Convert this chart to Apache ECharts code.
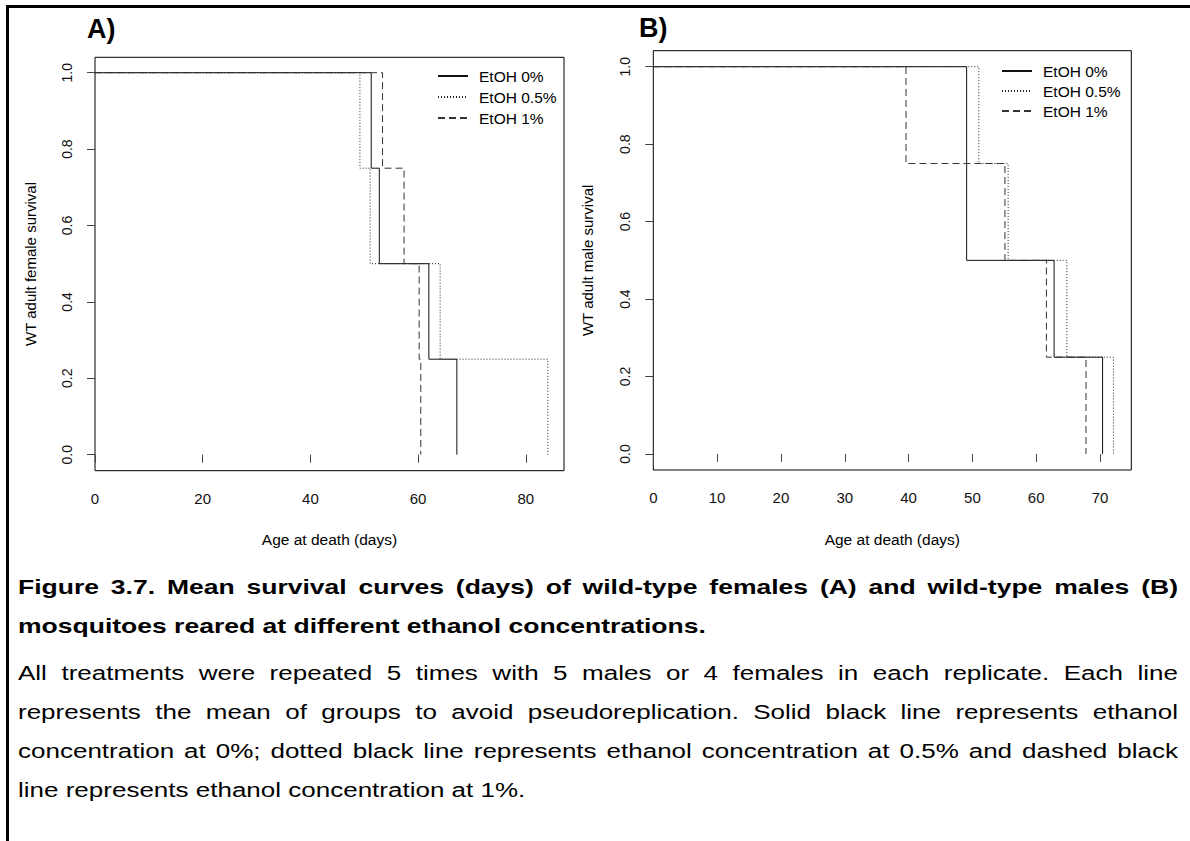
<!DOCTYPE html>
<html>
<head>
<meta charset="utf-8">
<script src="https://cdn.jsdelivr.net/npm/echarts@6/dist/echarts.min.js"></script>
<style>
  html, body { margin: 0; padding: 0; background: #fff; }
  #page { position: relative; width: 1190px; height: 841px; overflow: hidden; background: #fff; }
  #chart { position: absolute; left: 0; top: 0; width: 1190px; height: 560px; }
  .edge { position: absolute; background: #000; }
  .cap { position: absolute; left: 18px; white-space: nowrap; font-family: "Liberation Sans", Arial, sans-serif;
         font-size: 20px; line-height: 39px; color: #000; transform-origin: 0 0; }
  .cap.b { font-weight: bold; font-size: 20.4px; }
  .just { text-align: justify; text-align-last: justify; white-space: normal; }
</style>
</head>
<body>
<div id="page">
  <div class="edge" style="left:6px; top:5px; width:3px; height:836px;"></div>
  <div class="edge" style="left:6px; top:5px; width:1184px; height:3px;"></div>
  <div id="chart"></div>
  <div id="caption"></div>
</div>
<script>
// Mean survival curves, one step per time of death
const seriesNames = ['EtOH 0%', 'EtOH 0.5%', 'EtOH 1%'];

// Panel A: females (days, survival fraction)
const femaleDays0   = [0, 51.3, 52.8, 62.0, 67.2];
const femaleSurv0   = [1, 0.75, 0.5, 0.25, 0];
const femaleDays05  = [0, 49.2, 51.1, 64.1, 84.1];
const femaleSurv05  = [1, 0.75, 0.5, 0.25, 0];
const femaleDays1   = [0, 53.4, 57.4, 60.2, 60.5];
const femaleSurv1   = [1, 0.75, 0.5, 0.25, 0];

// Panel B: males
const maleDays0  = [0, 49.1, 62.8, 70.4];
const maleSurv0  = [1, 0.5, 0.25, 0];
const maleDays05 = [0, 51.0, 55.6, 64.8, 72.1];
const maleSurv05 = [1, 0.75, 0.5, 0.25, 0];
const maleDays1  = [0, 39.6, 55.1, 61.6, 67.8];
const maleSurv1  = [1, 0.75, 0.5, 0.25, 0];

const yTicks = [0, 0.2, 0.4, 0.6, 0.8, 1.0];
const xTicksA = [0, 20, 40, 60, 80];
const xTicksB = [0, 10, 20, 30, 40, 50, 60, 70];

const captionBold = [
  'Figure 3.7. Mean survival curves (days) of wild-type females (A) and wild-type males (B)',
  'mosquitoes reared at different ethanol concentrations.'
];
const captionBody = [
  'All treatments were repeated 5 times with 5 males or 4 females in each replicate. Each line',
  'represents the mean of groups to avoid pseudoreplication. Solid black line represents ethanol',
  'concentration at 0%; dotted black line represents ethanol concentration at 0.5% and dashed black',
  'line represents ethanol concentration at 1%.'
];

const FONT = '"Liberation Sans", Arial, sans-serif';
const zip = (xs, ys) => xs.map((x, i) => [x, ys[i]]);

const lineStyles = [
  { color: '#111', width: 1, type: 'solid' },
  { color: '#222', width: 1, type: [1, 2] },
  { color: '#333', width: 1, type: [7, 4] }
];

function xAxis(gridIndex, max, ticks) {
  return {
    type: 'value', gridIndex, min: 0, max,
    name: 'Age at death (days)', nameLocation: 'middle', nameGap: 61,
    nameTextStyle: { fontFamily: FONT, fontSize: 15.5, color: '#000' },
    axisLine: { show: false }, splitLine: { show: false },
    axisTick: { show: true, length: 8, customValues: ticks, lineStyle: { color: '#444' } },
    axisLabel: { customValues: ticks, margin: 20, fontFamily: FONT, fontSize: 15, color: '#111' }
  };
}
function yAxis(gridIndex, min, max, title, gap) {
  return {
    type: 'value', gridIndex, min, max,
    name: title, nameLocation: 'middle', nameGap: gap,
    nameTextStyle: { fontFamily: FONT, fontSize: 15, color: '#000' },
    axisLine: { show: false }, splitLine: { show: false },
    axisTick: { show: true, length: 8, customValues: yTicks, lineStyle: { color: '#444' } },
    axisLabel: { customValues: yTicks, rotate: 90, margin: 21, fontFamily: FONT, fontSize: 14, color: '#111',
                 formatter: v => v.toFixed(1) }
  };
}
function curve(name, idx, xi, days, surv) {
  return {
    name, type: 'line', step: 'end', xAxisIndex: xi, yAxisIndex: xi,
    data: zip(days, surv), symbol: 'none', showSymbol: false, silent: true,
    lineStyle: lineStyles[idx], itemStyle: { color: lineStyles[idx].color },
    emphasis: { disabled: true }, animation: false
  };
}
function legend(left, top, gap) {
  return {
    orient: 'vertical', left, top, padding: 0, itemWidth: 30, itemHeight: 14, itemGap: gap,
    data: seriesNames, selectedMode: false,
    itemStyle: { opacity: 0 },
    textStyle: { fontFamily: FONT, fontSize: 15.5, color: '#000', padding: [0, 0, 0, 6] }
  };
}

const chart = echarts.init(document.getElementById('chart'), null, { renderer: 'svg' });
chart.setOption({
  animation: false,
  backgroundColor: 'transparent',
  grid: [
    { left: 95, top: 57.3, width: 469, height: 413.4, show: true, borderColor: '#000', borderWidth: 1 },
    { left: 653.3, top: 50.7, width: 478, height: 419.3, show: true, borderColor: '#000', borderWidth: 1 }
  ],
  xAxis: [xAxis(0, 87.1, xTicksA), xAxis(1, 74.9, xTicksB)],
  yAxis: [yAxis(0, -0.0419, 1.0403, 'WT adult female survival', 57),
          yAxis(1, -0.0413, 1.0413, 'WT adult male survival', 58)],
  legend: [legend(437, 68, 5), legend(1001, 63, 4)],
  graphic: [
    { type: 'text', left: 87, top: 15, style: { text: 'A)', font: 'bold 27px ' + FONT, fill: '#000' } },
    { type: 'text', left: 639, top: 14, style: { text: 'B)', font: 'bold 27px ' + FONT, fill: '#000' } }
  ],
  series: [
    curve(seriesNames[0], 0, 0, femaleDays0, femaleSurv0),
    curve(seriesNames[1], 1, 0, femaleDays05, femaleSurv05),
    curve(seriesNames[2], 2, 0, femaleDays1, femaleSurv1),
    curve(seriesNames[0], 0, 1, maleDays0, maleSurv0),
    curve(seriesNames[1], 1, 1, maleDays05, maleSurv05),
    curve(seriesNames[2], 2, 1, maleDays1, maleSurv1)
  ]
});

// Caption: one div per line, full lines justified to the text width
const SX = 1.3, TEXT_W = 1160;
const capCentres = [587, 626, 673, 712, 751, 790, 829];
const capBox = document.getElementById('caption');
const lines = captionBold.map((t, i) => ({ t, bold: true, last: i === captionBold.length - 1 }))
  .concat(captionBody.map((t, i) => ({ t, bold: false, last: i === captionBody.length - 1 })));
lines.forEach((ln, i) => {
  const d = document.createElement('div');
  d.className = 'cap' + (ln.bold ? ' b' : '') + (ln.last ? '' : ' just');
  d.style.top = (capCentres[i] - 19.5) + 'px';
  d.style.width = (TEXT_W / SX) + 'px';
  d.style.transform = 'scaleX(' + SX + ')';
  d.textContent = ln.t;
  capBox.appendChild(d);
});
</script>
</body>
</html>
